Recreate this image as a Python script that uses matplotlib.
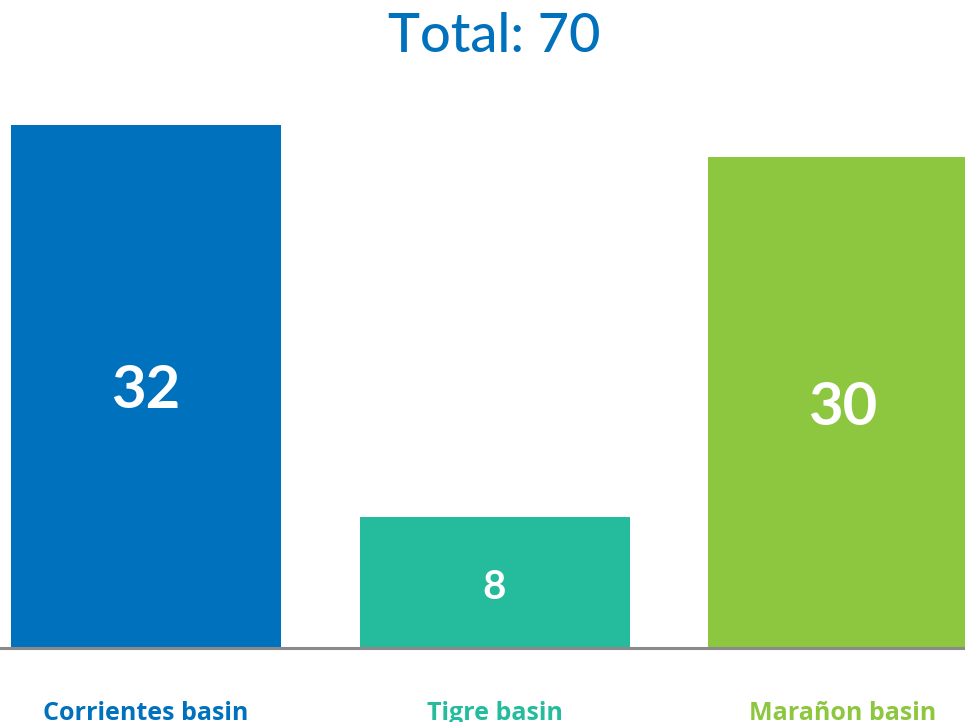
import matplotlib
matplotlib.use("Agg")
import matplotlib.pyplot as plt
from matplotlib.transforms import offset_copy

categories = ["Corrientes basin", "Tigre basin", "Marañon basin"]
values = [32, 8, 30]
colors = ["#0071BC", "#24BC9C", "#8DC63F"]
title = "Total: 70"

W, H = 965, 722
fig = plt.figure(figsize=(W / 100, H / 100), dpi=100)
base_px = 74
ax = fig.add_axes([0, base_px / H, 1, 1 - base_px / H])
ax.set_axis_off()

scale = 348.5
x = list(range(len(values)))
bars = ax.bar(x, values, width=270 / scale, color=colors, zorder=2)
ax.set_xlim(-146 / scale, (W - 146) / scale)
ax.set_ylim(0, (H - base_px) / 16.35)
ax.axhline(0, color="#8a8a8a", lw=2.2, zorder=3, clip_on=False)

sizes = [43, 29, 43]
shifted = offset_copy(ax.transData, fig=fig, x=0, y=-5, units="dots")
for xi, v, fs in zip(x, values, sizes):
    ax.text(xi, v / 2, str(v), ha="center", va="center", color="white",
            fontsize=fs, fontweight="bold", family=["Lato", "DejaVu Sans"],
            transform=shifted)

for xi, cat, c in zip(x, categories, colors):
    px = 146 + xi * scale
    fig.text(px / W, 2 / H, cat, ha="center", va="baseline", color=c,
             fontsize=18, fontweight="bold", family=["Open Sans", "DejaVu Sans"])

fig.text(494 / W, (H - 52) / H, title, ha="center", va="baseline",
         color="#0071BC", fontsize=39, fontweight="medium",
         family=["Lato", "DejaVu Sans"])

fig.savefig("out.png", dpi=100)
